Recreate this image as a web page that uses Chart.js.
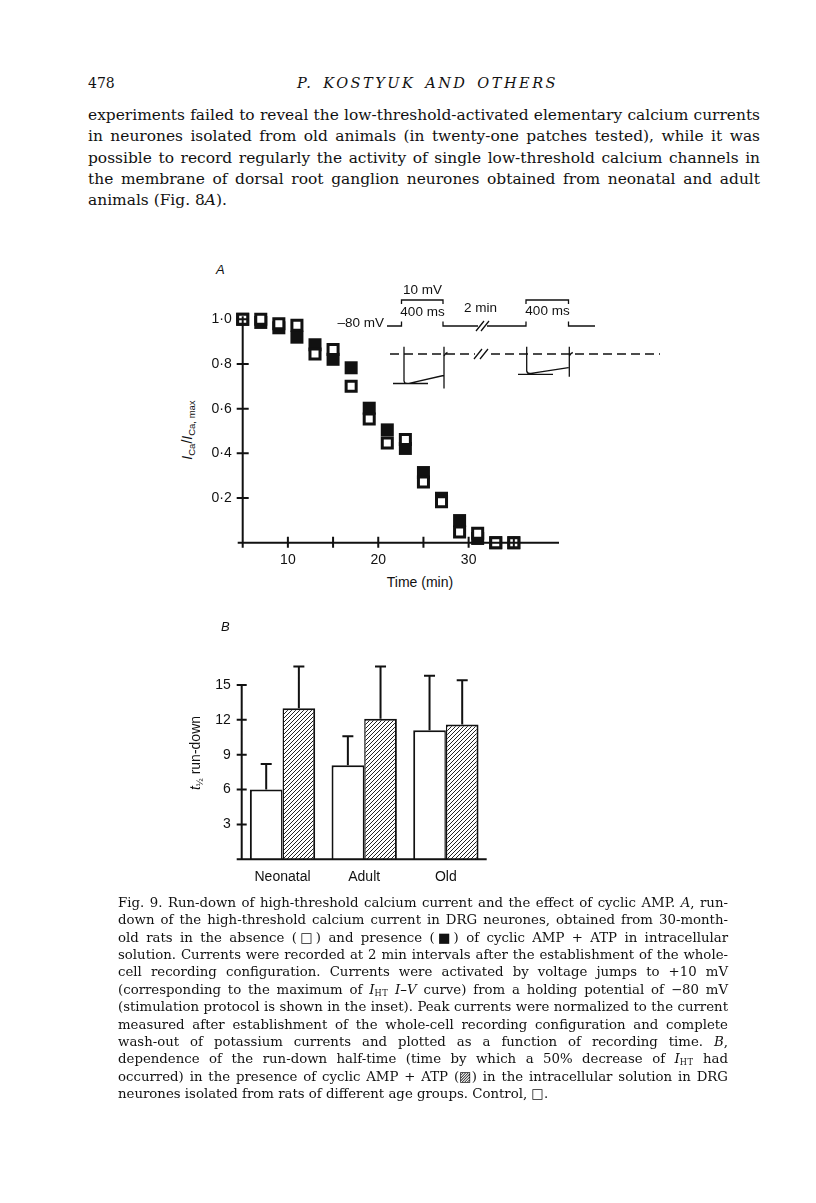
<!DOCTYPE html>
<html lang="en">
<head>
<meta charset="UTF-8">
<title>Fig. 9 – Run-down of high-threshold calcium current</title>
<style>
  body { margin: 0; background: #fff; }
  #page { position: relative; width: 816px; height: 1203px; overflow: hidden; background: #fff; color: #111; }
  .abs { position: absolute; white-space: nowrap; }
  .serif { font-family: "DejaVu Serif", serif; }
  .sans { font-family: "Liberation Sans", Arial, sans-serif; }
  .block { position: absolute; font-family: "DejaVu Serif", serif; }
  .block .ln { white-space: nowrap; text-align: left; }
  .block.fitted .ln:not(.last) { text-align: justify; text-align-last: justify; }
  sub { font-size: 0.68em; vertical-align: -0.3em; line-height: 0; }
  .sc { font-size: 0.62em; vertical-align: -0.25em; line-height: 0; letter-spacing: 0.5px; }
  .ylab { position: absolute; transform: translate(-50%, -50%) rotate(-90deg); font: 14px "Liberation Sans", Arial, sans-serif; white-space: nowrap; }
  .ctr { position: absolute; transform: translate(-50%, -50%); white-space: nowrap; }
  canvas { position: absolute; }
</style>
</head>
<body>
<div id="page">

  <div class="abs serif" style="left:88px;top:76px;font-size:14px;line-height:14px">478</div>
  <div class="abs serif" style="left:297px;width:261px;top:76px;font-size:14.5px;line-height:14px;font-style:italic;letter-spacing:2.5px;text-align:justify;text-align-last:justify">P. KOSTYUK AND OTHERS</div>

  <div class="block" id="bodyText" data-base="121" data-lh="21.25" style="left:88px;width:672px;font-size:14px;line-height:21.25px">
    <div class="ln"><span>experiments failed to reveal the low-threshold-activated elementary calcium currents</span></div>
    <div class="ln"><span>in neurones isolated from old animals (in twenty-one patches tested), while it was</span></div>
    <div class="ln"><span>possible to record regularly the activity of single low-threshold calcium channels in</span></div>
    <div class="ln"><span>the membrane of dorsal root ganglion neurones obtained from neonatal and adult</span></div>
    <div class="ln last"><span>animals (Fig. 8<i>A</i>).</span></div>
  </div>

  <!-- panel A -->
  <div class="abs sans" style="left:216px;top:262px;font-size:13px;font-style:italic">A</div>
  <div class="ylab" style="left:187px;top:430px"><i>I</i><sub>Ca</sub>/<i>I</i><sub>Ca, max</sub></div>
  <div class="ctr sans" style="left:420px;top:582px;font-size:14px">Time (min)</div>
  <canvas id="chartA" width="460" height="320" style="left:150px;top:280px"></canvas>

  <svg width="816" height="1203" viewBox="0 0 816 1203" style="position:absolute;left:0;top:0" font-family="Liberation Sans, Arial, sans-serif" font-size="13.5" fill="none" stroke="#111" stroke-width="1.3">
    <g fill="#111" stroke="none">
      <text x="384" y="326.5" text-anchor="end">–80 mV</text>
      <text x="422.5" y="293.5" text-anchor="middle">10 mV</text>
      <text x="422.5" y="315.5" text-anchor="middle">400 ms</text>
      <text x="480.5" y="311.5" text-anchor="middle">2 min</text>
      <text x="547.5" y="314.5" text-anchor="middle">400 ms</text>
    </g>
    <path d="M387 326H401.5V321.5 M401.5 304V300H443V304 M443 321.5V326H478 M487 326H526V321.5 M526 304V300H568.5V304 M568.5 321.5V326H595"/>
    <path d="M476 331L484 321 M481 331L489 321"/>
    <path d="M390 354H475 M491 354H660" stroke-dasharray="9 5"/>
    <path d="M474 359L482 349 M480 359L488 349"/>
    <path d="M404 346.7V381 Q404.5 384 409 383.3 L443.5 375.5 M444 346.7V388.5 M393 383.5H428"/>
    <path d="M444 356q1.5 -3 3.5 -3.5 M569.3 356q1.5 -3 3.5 -3.5"/>
    <path d="M526.7 346.7V371 Q527.3 374 531 373.3 L568.5 367.7 M569.3 346.7V376.7 M518 374.3H553"/>
  </svg>

  <!-- panel B -->
  <div class="abs sans" style="left:221px;top:619px;font-size:13px;font-style:italic">B</div>
  <div class="ylab" style="left:195px;top:753px"><i>t</i><sub>½</sub> run-down</div>
  <canvas id="chartB" width="370" height="260" style="left:150px;top:640px"></canvas>

  <div class="block" id="caption" data-base="907" data-lh="17.4" style="left:118px;width:610px;font-size:12.5px;line-height:17.4px">
    <div class="ln"><span>Fig. 9. Run-down of high-threshold calcium current and the effect of cyclic AMP. <i>A</i>, run-</span></div>
    <div class="ln"><span>down of the high-threshold calcium current in DRG neurones, obtained from 30-month-</span></div>
    <div class="ln"><span>old rats in the absence (□) and presence (■) of cyclic AMP + ATP in intracellular</span></div>
    <div class="ln"><span>solution. Currents were recorded at 2 min intervals after the establishment of the whole-</span></div>
    <div class="ln"><span>cell recording configuration. Currents were activated by voltage jumps to +10 mV</span></div>
    <div class="ln"><span>(corresponding to the maximum of <i>I</i><span class="sc">HT</span> <i>I–V</i> curve) from a holding potential of −80 mV</span></div>
    <div class="ln"><span>(stimulation protocol is shown in the inset). Peak currents were normalized to the current</span></div>
    <div class="ln"><span>measured after establishment of the whole-cell recording configuration and complete</span></div>
    <div class="ln"><span>wash-out of potassium currents and plotted as a function of recording time. <i>B</i>,</span></div>
    <div class="ln"><span>dependence of the run-down half-time (time by which a 50% decrease of <i>I</i><span class="sc">HT</span> had</span></div>
    <div class="ln"><span>occurred) in the presence of cyclic AMP + ATP (▨) in the intracellular solution in DRG</span></div>
    <div class="ln last"><span>neurones isolated from rats of different age groups. Control, □.</span></div>
  </div>
</div>

<script src="https://cdn.jsdelivr.net/npm/chart.js"></script>
<script>
// panel A: normalised current vs time
const times = [5, 7, 9, 11, 13, 15, 17, 19, 21, 23, 25, 27, 29, 31, 33, 35];
const controlA = [1.0, 1.0, 0.98, 0.973, 0.845, 0.865, 0.70, 0.554, 0.446, 0.462, 0.272, 0.183, 0.048, 0.042, 0.0, 0.0];
const campA = [1.0, 0.986, 0.962, 0.92, 0.886, 0.821, 0.783, 0.602, 0.505, 0.422, 0.314, 0.199, 0.099, 0.019, 0.0, 0.0];
const xTicksA = [10, 15, 20, 25, 30, 35];
const xLabelsA = ['10', '', '20', '', '30', ''];
const yTicksA = [0.2, 0.4, 0.6, 0.8, 1.0];
const yLabelsA = ['0·2', '0·4', '0·6', '0·8', '1·0'];

// panel B: run-down half-time
const groups = ['Neonatal', 'Adult', 'Old'];
const controlB = [6.0, 8.1, 11.1];
const controlErrB = [2.2, 2.5, 4.7];
const campB = [13.0, 12.1, 11.6];
const campErrB = [3.6, 4.5, 3.8];
const yTicksB = [3, 6, 9, 12, 15];

const ink = '#111';
const tickFont = { family: "'Liberation Sans', Arial, sans-serif", size: 14 };

// size the justified text so the widest line fills the measure
function fitBlock(id) {
  const b = document.getElementById(id);
  const w = b.clientWidth;
  let fs = parseFloat(b.style.fontSize);
  let widest = 0;
  b.querySelectorAll('.ln > span').forEach(s => { widest = Math.max(widest, s.getBoundingClientRect().width); });
  fs = fs * w / widest - 0.05;
  b.style.fontSize = fs + 'px';
  const lh = parseFloat(b.dataset.lh);
  b.style.top = (parseFloat(b.dataset.base) - ((lh - 1.164 * fs) / 2 + 0.928 * fs)) + 'px';
  b.classList.add('fitted');
}
fitBlock('bodyText');
fitBlock('caption');

// axis lines with ticks crossing the axis, drawn over the marks
const axesA = {
  id: 'axesA',
  afterDatasetsDraw(chart) {
    const { ctx, scales: { x, y } } = chart;
    const x0 = x.getPixelForValue(5), y0 = y.getPixelForValue(0);
    ctx.save();
    ctx.strokeStyle = ink;
    ctx.lineWidth = 2;
    ctx.beginPath();
    ctx.moveTo(x0, y.getPixelForValue(1.0) - 3);
    ctx.lineTo(x0, y0 + 5);
    ctx.moveTo(x0 - 5, y0);
    ctx.lineTo(x.getPixelForValue(40), y0);
    yTicksA.forEach(v => {
      const py = y.getPixelForValue(v);
      ctx.moveTo(x0 - 6, py);
      ctx.lineTo(x0 + 6, py);
    });
    xTicksA.forEach(v => {
      const px = x.getPixelForValue(v);
      ctx.moveTo(px, y0 - 6);
      ctx.lineTo(px, y0 + 5);
    });
    ctx.stroke();
    ctx.restore();
  }
};

new Chart(document.getElementById('chartA'), {
  type: 'scatter',
  data: {
    datasets: [
      {
        label: 'Control',
        data: times.map((t, i) => ({ x: t, y: controlA[i] })),
        pointStyle: 'rect',
        pointRadius: 7.1,
        backgroundColor: '#fff',
        borderColor: ink,
        borderWidth: 3,
        clip: false,
        order: 1
      },
      {
        label: 'Cyclic AMP + ATP',
        data: times.map((t, i) => ({ x: t, y: campA[i] })),
        pointStyle: 'rect',
        pointRadius: 9.2,
        backgroundColor: ink,
        borderColor: ink,
        borderWidth: 0,
        clip: false,
        order: 2
      }
    ]
  },
  options: {
    responsive: false,
    animation: false,
    devicePixelRatio: 1,
    events: [],
    layout: { padding: { top: 39.3, right: 51, left: 0, bottom: 0 } },
    plugins: { legend: { display: false }, tooltip: { enabled: false } },
    scales: {
      x: {
        type: 'linear', min: 5, max: 40,
        afterBuildTicks: s => { s.ticks = xTicksA.map(v => ({ value: v })); },
        afterFit: s => { s.height = 57.3; },
        grid: { display: false, drawTicks: false },
        border: { display: false },
        ticks: { autoSkip: false, maxRotation: 0, padding: 9, color: ink, font: tickFont, callback: (v, i) => xLabelsA[i] }
      },
      y: {
        min: 0, max: 1,
        afterBuildTicks: s => { s.ticks = yTicksA.map(v => ({ value: v })); },
        afterFit: s => { s.width = 92.7; },
        grid: { display: false, drawTicks: false },
        border: { display: false },
        ticks: { autoSkip: false, padding: 11, color: ink, font: tickFont, callback: (v, i) => yLabelsA[i] }
      }
    }
  },
  plugins: [axesA]
});

// diagonal hatching for the cyclic AMP bars
function hatch() {
  const c = document.createElement('canvas');
  c.width = 4; c.height = 4;
  const g = c.getContext('2d');
  g.fillStyle = '#fff';
  g.fillRect(0, 0, 4, 4);
  g.strokeStyle = '#222';
  g.lineWidth = 1;
  g.beginPath();
  g.moveTo(0, 4); g.lineTo(4, 0);
  g.moveTo(-1, 1); g.lineTo(1, -1);
  g.moveTo(3, 5); g.lineTo(5, 3);
  g.stroke();
  return g.createPattern(c, 'repeat');
}

const barsExtras = {
  id: 'barsExtras',
  afterDatasetsDraw(chart) {
    const { ctx, chartArea, scales: { y } } = chart;
    const y0 = y.getPixelForValue(0);
    ctx.save();
    ctx.strokeStyle = ink;
    ctx.lineWidth = 2;
    ctx.beginPath();
    // upper error bars
    chart.data.datasets.forEach((ds, i) => {
      chart.getDatasetMeta(i).data.forEach((bar, j) => {
        const top = y.getPixelForValue(ds.data[j] + ds.errors[j]);
        ctx.moveTo(bar.x, bar.y);
        ctx.lineTo(bar.x, top);
        ctx.moveTo(bar.x - 5.5, top);
        ctx.lineTo(bar.x + 5.5, top);
      });
    });
    // axes
    ctx.moveTo(chartArea.left, y.getPixelForValue(15));
    ctx.lineTo(chartArea.left, y0);
    ctx.moveTo(chartArea.left - 5, y0);
    ctx.lineTo(chartArea.right, y0);
    yTicksB.forEach(v => {
      const py = y.getPixelForValue(v);
      ctx.moveTo(chartArea.left - 5, py);
      ctx.lineTo(chartArea.left + 5, py);
    });
    ctx.stroke();
    ctx.restore();
  }
};

new Chart(document.getElementById('chartB'), {
  type: 'bar',
  data: {
    labels: groups,
    datasets: [
      {
        label: 'Control',
        data: controlB,
        errors: controlErrB,
        backgroundColor: '#fff',
        borderColor: ink,
        borderWidth: { top: 2, left: 2, right: 1.5, bottom: 0 },
        borderSkipped: false
      },
      {
        label: 'Cyclic AMP + ATP',
        data: campB,
        errors: campErrB,
        backgroundColor: hatch(),
        borderColor: ink,
        borderWidth: { top: 2, left: 1.5, right: 2, bottom: 0 },
        borderSkipped: false
      }
    ]
  },
  options: {
    responsive: false,
    animation: false,
    devicePixelRatio: 1,
    events: [],
    categoryPercentage: 0.8,
    barPercentage: 1.0,
    layout: { padding: { top: 45, right: 33.3, left: 0, bottom: 0 } },
    plugins: { legend: { display: false }, tooltip: { enabled: false } },
    scales: {
      x: {
        afterFit: s => { s.height = 40.7; },
        grid: { display: false, drawTicks: false },
        border: { display: false },
        ticks: { padding: 9, color: ink, font: tickFont }
      },
      y: {
        min: 0, max: 15,
        afterBuildTicks: s => { s.ticks = yTicksB.map(v => ({ value: v })); },
        afterFit: s => { s.width = 91.7; },
        grid: { display: false, drawTicks: false },
        border: { display: false },
        ticks: { autoSkip: false, padding: 11, color: ink, font: tickFont }
      }
    }
  },
  plugins: [barsExtras]
});
</script>
</body>
</html>
